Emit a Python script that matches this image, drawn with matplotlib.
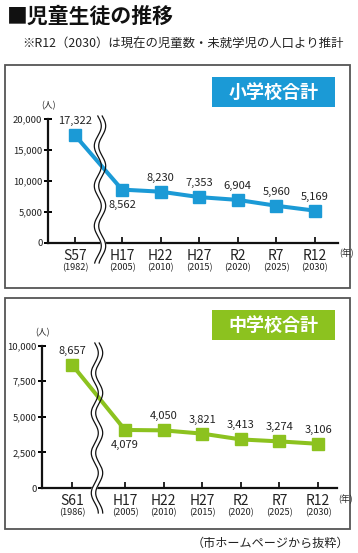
import numpy as np
import matplotlib
matplotlib.use('Agg')
import matplotlib.pyplot as plt
import matplotlib.transforms as mtransforms
from matplotlib.patches import Rectangle
from matplotlib.ticker import FuncFormatter

plt.rcParams['font.family'] = ['Noto Sans CJK JP', 'DejaVu Sans']

# ---- data ----
elem_labels = ['S57', 'H17', 'H22', 'H27', 'R2', 'R7', 'R12']
elem_years = ['1982', '2005', '2010', '2015', '2020', '2025', '2030']
elem_values = [17322, 8562, 8230, 7353, 6904, 5960, 5169]

jhs_labels = ['S61', 'H17', 'H22', 'H27', 'R2', 'R7', 'R12']
jhs_years = ['1986', '2005', '2010', '2015', '2020', '2025', '2030']
jhs_values = [8657, 4079, 4050, 3821, 3413, 3274, 3106]

elem_yticks = [0, 5000, 10000, 15000, 20000]
jhs_yticks = [0, 2500, 5000, 7500, 10000]

BLUE = '#1b9ad6'
GREEN = '#8cc21f'
TXT = '#222222'

W, H, DPI = 358, 553, 100
fig = plt.figure(figsize=(W / DPI, H / DPI), dpi=DPI)
# pixel coords (origin top-left) -> figure
px = mtransforms.Affine2D().scale(1 / W, -1 / H).translate(0, 1) + fig.transFigure

bg = fig.add_axes([0, 0, 1, 1])
bg.set_xlim(0, W)
bg.set_ylim(H, 0)
bg.axis('off')
bg.set_zorder(0)

# title + notes
bg.text(7, 16, '■児童生徒の推移', fontsize=15, fontweight='bold', color='#111',
        ha='left', va='center')
bg.text(22, 44, '※R12（2030）は現在の児童数・未就学児の人口より推計', fontsize=8.9,
        color=TXT, ha='left', va='center')
bg.text(349, 543, '（市ホームページから抜粋）', fontsize=8.7, color=TXT,
        ha='right', va='center')


def draw_panel(box, axbox, labels, years, values, yticks, color, title,
               gap, xlim, break_px, label_below):
    # panel frame
    x0, y0, x1, y1 = box
    bg.add_patch(Rectangle((x0, y0), x1 - x0, y1 - y0, facecolor='white',
                           edgecolor='#555555', lw=1.3))
    # title box
    bx0 = 212
    by0 = y0 + 12
    bg.add_patch(Rectangle((bx0, by0), 123, 30, facecolor=color, edgecolor='none'))
    bg.text(bx0 + 61.5, by0 + 15, title, color='white', fontsize=13,
            fontweight='bold', ha='center', va='center')

    a0, ay0, a1, ay1 = axbox
    ax = fig.add_axes([a0 / W, 1 - ay1 / H, (a1 - a0) / W, (ay1 - ay0) / H])
    ax.set_zorder(1)
    ax.patch.set_alpha(0)

    xs = np.arange(len(values), dtype=float)
    xs[1:] += gap - 1
    ax.plot(xs, values, color=color, lw=2.9, marker='s', markersize=8,
            zorder=4, clip_on=False)

    ax.set_xlim(*xlim)
    ax.set_ylim(0, yticks[-1])
    ax.set_yticks(yticks)
    ax.yaxis.set_major_formatter(FuncFormatter(lambda v, p: f'{int(v):,}'))
    ax.set_xticks(xs)
    ax.set_xticklabels([])
    for s in ['top', 'right']:
        ax.spines[s].set_visible(False)
    for s in ['left', 'bottom']:
        ax.spines[s].set_linewidth(1.6)
        ax.spines[s].set_color('#111')
    ax.tick_params(axis='y', direction='inout', length=6, width=1.4,
                   labelsize=6.8, pad=1, labelcolor=TXT)
    ax.tick_params(axis='x', direction='in', length=4, width=1.2)

    for i, (xi, lab, yr, v) in enumerate(zip(xs, labels, years, values)):
        ax.annotate(lab, xy=(xi, 0), xycoords=('data', 'axes fraction'),
                    xytext=(0, -13), textcoords='offset pixels', ha='center',
                    va='center', fontsize=10, color=TXT)
        ax.annotate(f'({yr})', xy=(xi, 0), xycoords=('data', 'axes fraction'),
                    xytext=(0, -25), textcoords='offset pixels', ha='center',
                    va='center', fontsize=6.6, color=TXT)
        dy = -15 if i == label_below else 14
        ax.annotate(f'{v:,}', xy=(xi, v), xytext=(0, dy),
                    textcoords='offset pixels', ha='center', va='center',
                    fontsize=8, color=TXT, zorder=6)

    ax.annotate('(人)', xy=(0, 1), xycoords='axes fraction', xytext=(0, 13),
                textcoords='offset pixels', ha='center', va='center',
                fontsize=6.3, color=TXT)
    ax.annotate('(年)', xy=(1, 0), xycoords='axes fraction', xytext=(1, -11),
                textcoords='offset pixels', ha='left', va='center',
                fontsize=6.3, color=TXT)

    # wavy axis break
    cx, ytop, ybot = break_px
    yy = np.linspace(ytop, ybot, 240)
    wave = 3.5 * np.sin(2 * np.pi * (yy - ytop) / 40)
    xl = cx - 2.2 + wave
    xr = cx + 2.2 + wave
    ax.fill(np.r_[xl, xr[::-1]], np.r_[yy, yy[::-1]], color='white',
            transform=px, zorder=2.7, clip_on=False)
    ax.plot(xl, yy, color='#111', lw=0.9, transform=px, zorder=5, clip_on=False)
    ax.plot(xr, yy, color='#111', lw=0.9, transform=px, zorder=5, clip_on=False)
    return ax


draw_panel((5, 65, 350, 288), (48, 118.7, 338, 242.7), elem_labels, elem_years,
           elem_values, elem_yticks, BLUE, '小学校合計', 1.22, (-0.70, 6.82),
           (100, 116, 263), 1)
draw_panel((5, 298, 350, 529), (42, 345.7, 337, 488), jhs_labels, jhs_years,
           jhs_values, jhs_yticks, GREEN, '中学校合計', 1.37, (-0.78, 6.86),
           (97, 343, 513), 1)

fig.savefig('out.png', dpi=DPI)
